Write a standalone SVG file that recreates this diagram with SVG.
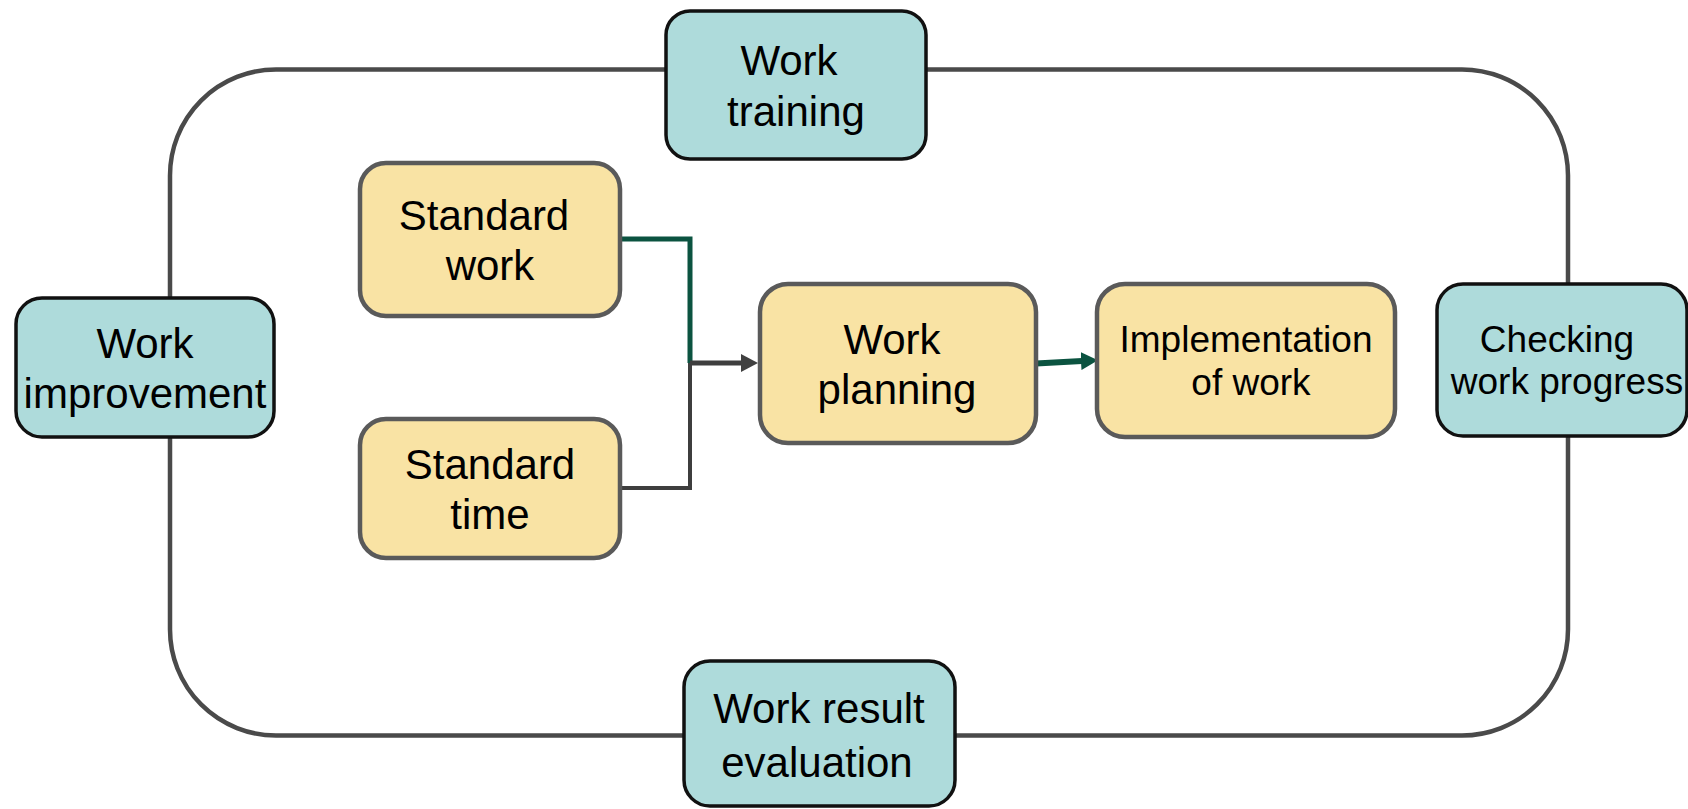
<svg xmlns="http://www.w3.org/2000/svg" width="1688" height="809" viewBox="0 0 1688 809">
<style>
  text { font-family: "Liberation Sans", Arial, sans-serif; fill: #000; text-anchor: middle; }
  .big { font-size: 42px; }
  .mid { font-size: 37px; }
  .teal { fill: #aedbdb; stroke: #111; stroke-width: 3.5; }
  .yellow { fill: #f9e3a4; stroke: #5a5a5a; stroke-width: 4.5; }
  .loop { fill: none; stroke: #4a4a4a; stroke-width: 4.5; }
  .green { fill: none; stroke: #0b5340; }
  .gray { fill: none; stroke: #3e3e3e; }
</style>
<defs>
  <marker id="ahGray" viewBox="0 0 17 18" refX="1" refY="9" markerWidth="17" markerHeight="18" markerUnits="userSpaceOnUse" orient="auto">
    <path d="M0,0 L17,9 L0,18 z" fill="#404040"/>
  </marker>
  <marker id="ahGreen" viewBox="0 0 17 18" refX="1" refY="9" markerWidth="17" markerHeight="18" markerUnits="userSpaceOnUse" orient="auto">
    <path d="M0,0 L17,9 L0,18 z" fill="#0b5340"/>
  </marker>
</defs>
<rect width="1688" height="809" fill="#fff"/>
<g id="cycle-loop">
  <rect class="loop" x="170" y="69.5" width="1398" height="666" rx="106" ry="106"/>
</g>
<g id="connectors">
  <path class="gray" stroke-width="4" d="M620,488 H690 V363"/>
  <path class="green" stroke-width="5" d="M620,239 H690 V363"/>
  <path class="gray" stroke-width="5" d="M690,363 H742" marker-end="url(#ahGray)"/>
  <path class="green" stroke-width="6" d="M1036,363.5 L1082,361" marker-end="url(#ahGreen)"/>
</g>
<g id="work-training">
  <rect class="teal" x="666" y="11" width="260" height="148" rx="24"/>
  <text class="big" x="789" y="75">Work</text>
  <text class="big" x="796" y="126">training</text>
</g>
<g id="work-improvement">
  <rect class="teal" x="16" y="298" width="258" height="139" rx="26"/>
  <text class="big" x="145" y="358">Work</text>
  <text class="big" x="145" y="408">improvement</text>
</g>
<g id="checking-work-progress">
  <rect class="teal" x="1437" y="284" width="250" height="152" rx="26"/>
  <text class="mid" x="1557" y="352">Checking</text>
  <text class="mid" x="1567" y="394">work progress</text>
</g>
<g id="work-result-evaluation">
  <rect class="teal" x="684" y="661" width="271" height="145" rx="26"/>
  <text class="big" x="819" y="723">Work result</text>
  <text class="big" x="817" y="777">evaluation</text>
</g>
<g id="standard-work">
  <rect class="yellow" x="360" y="163" width="260" height="153" rx="26"/>
  <text class="big" x="484" y="230">Standard</text>
  <text class="big" x="490" y="280">work</text>
</g>
<g id="standard-time">
  <rect class="yellow" x="360" y="419" width="260" height="139" rx="26"/>
  <text class="big" x="490" y="479">Standard</text>
  <text class="big" x="490" y="529">time</text>
</g>
<g id="work-planning">
  <rect class="yellow" x="760" y="284" width="276" height="159" rx="28"/>
  <text class="big" x="892" y="354">Work</text>
  <text class="big" x="897" y="404">planning</text>
</g>
<g id="implementation-of-work">
  <rect class="yellow" x="1097" y="284" width="298" height="153" rx="28"/>
  <text class="mid" x="1246" y="352">Implementation</text>
  <text class="mid" x="1251" y="395">of work</text>
</g>
</svg>
